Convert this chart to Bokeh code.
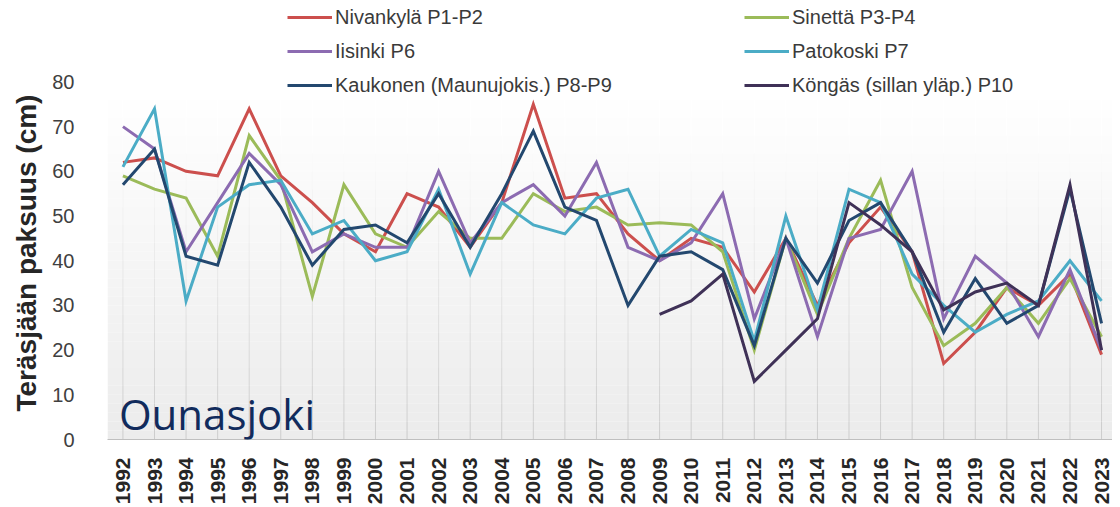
import math
from bokeh.plotting import figure
from bokeh.models import (Legend, LegendItem, Label, BoxAnnotation, FixedTicker,
                          Range1d, ColumnDataSource, Title)
from bokeh.embed import file_html
from bokeh.resources import INLINE

# ---------------- data ----------------
years = list(range(1992, 2024))
y_ticks = [0, 10, 20, 30, 40, 50, 60, 70, 80]

nivankyla = [62, 63, 60, 59, 74, 59, 53, 46, 42, 55, 52, 43, 53, 75, 54, 55,
             46, 40, 45, 43, 33, 45, 30, 44, 52, 42, 17, 24, 34, 30, 37, 19]
sinetta = [59, 56, 54, 41, 68, 58, 32, 57, 46, 43, 51, 45, 45, 55, 51, 52,
           48, 48.5, 48, 42, 20, 45, 28, 45, 58, 34, 21, 26, 34, 26, 36, 23]
iisinki = [70, 65, 42, 53, 64, 57, 42, 46, 43, 43, 60, 44, 53, 57, 50, 62,
           43, 40, 44, 55, 27, 45, 23, 45, 47, 60, 27, 41, 35, 23, 38, 20]
patokoski = [61, 74, 31, 52, 57, 58, 46, 49, 40, 42, 56, 37, 53, 48, 46, 54,
             56, 41, 47, 44, 22, 50, 29, 56, 53, 37, 30, 24, 28, 31, 40, 31]
kaukonen = [57, 65, 41, 39, 62, 52, 39, 47, 48, 44, 55, 43, 55, 69, 52, 49,
            30, 41, 42, 38, 21, 45, 35, 49, 53, 42, 24, 36, 26, 30, 56, 26]
kongas_years = list(range(2009, 2024))
kongas = [28, 31, 37, 13, 20, 27, 53, 48, 42, 29, 33, 35, 30, 57, 20]

labels = ["Nivankylä P1-P2", "Sinettä P3-P4", "Iisinki P6", "Patokoski P7",
          "Kaukonen (Maunujokis.) P8-P9", "Köngäs (sillan yläp.) P10"]
colors = ["#cc4f4d", "#9bbb59", "#8c6bb1", "#4bacc6", "#23486f", "#3f3157"]

# ---------------- figure ----------------
# frame spans the full height so the legend (above the 80 tick) is not clipped
p = figure(width=1112, height=507,
           x_range=Range1d(1991.511, 2023.347), y_range=Range1d(0, 98.22),
           output_backend="svg", toolbar_location=None,
           min_border_left=103, min_border_right=0, min_border_top=0,
           min_border_bottom=65)
p.outline_line_color = None
p.xgrid.visible = False
p.ygrid.visible = False
p.background_fill_color = "white"
p.border_fill_color = "white"

# gradient background (style only)
nb = 40
y0, y1 = y_ticks[0], y_ticks[-1]
for i in range(nb):
    t = i / (nb - 1)
    c = int(round(236 + (255 - 236) * t))
    p.add_layout(BoxAnnotation(bottom=y0 + (y1 - y0) * i / nb,
                               top=y0 + (y1 - y0) * (i + 1) / nb,
                               fill_color=(c, c, c), fill_alpha=1.0,
                               line_color=None, level="underlay"))

# fading vertical gridlines at each year
ng = 20
gx, gy0, gy1, gc = [], [], [], []
for i in range(ng):
    t = i / (ng - 1)
    c = int(round(205 + (255 - 205) * min(1.0, t * 1.15)))
    for yr in years:
        gx.append(yr)
        gy0.append(y0 + (y1 - y0) * i / ng)
        gy1.append(y0 + (y1 - y0) * (i + 1) / ng)
        gc.append("#%02x%02x%02x" % (c, c, c))
p.segment(x0=gx, y0=gy0, x1=gx, y1=gy1, line_color=gc, line_width=1)

# series
series = [(years, nivankyla), (years, sinetta), (years, iisinki),
          (years, patokoski), (years, kaukonen), (kongas_years, kongas)]
rends = []
for (xs, ys), col in zip(series, colors):
    src = ColumnDataSource(dict(x=xs, y=ys))
    r = p.line("x", "y", source=src, line_color=col, line_width=3,
               line_join="miter")
    rends.append(r)

# axes
font = "Liberation Sans"
p.xaxis.ticker = FixedTicker(ticks=years)
p.xaxis.major_label_orientation = math.pi / 2
p.xaxis.major_label_text_font = font
p.xaxis.major_label_text_font_style = "bold"
p.xaxis.major_label_text_font_size = "21px"
p.xaxis.major_label_text_color = "#262626"
p.xaxis.major_label_standoff = 12
p.xaxis.axis_line_color = "#bfbfbf"
p.xaxis.axis_line_width = 1
p.xaxis.major_tick_line_color = None
p.xaxis.minor_tick_line_color = None

p.yaxis.ticker = FixedTicker(ticks=y_ticks)
p.yaxis.axis_line_color = None
p.yaxis.major_tick_line_color = None
p.yaxis.minor_tick_line_color = None
p.yaxis.major_label_text_font = font
p.yaxis.major_label_text_font_size = "20px"
p.yaxis.major_label_text_color = "#404040"
p.yaxis.major_label_standoff = 27

# y axis title, positioned along the 0..80 part of the axis
p.add_layout(Title(text="Teräsjään paksuus (cm)", align="left", offset=28,
                   text_font=font, text_font_style="bold",
                   text_font_size="28px", text_color="#262626",
                   standoff=16), "left")

# legends (two columns)
def make_legend(idx, loc):
    return Legend(items=[LegendItem(label=labels[i], renderers=[rends[i]]) for i in idx],
                  location=loc, orientation="vertical", padding=0, margin=0,
                  spacing=10, glyph_width=45, glyph_height=24, label_height=24,
                  label_standoff=3, border_line_color=None,
                  background_fill_alpha=0.0, label_text_font=font,
                  label_text_font_size="20px", label_text_color="#3a3a3a")

p.add_layout(make_legend([0, 2, 4], (180, 342)))
p.add_layout(make_legend([1, 3, 5], (637, 342)))

p.add_layout(Label(x=years[0], y=5.8, x_offset=-4, text="Ounasjoki",
                   text_font="Open Sans", text_font_size="42px",
                   text_color="#112b5c", text_baseline="alphabetic"))

open("out.html", "w").write(file_html(p, INLINE))
